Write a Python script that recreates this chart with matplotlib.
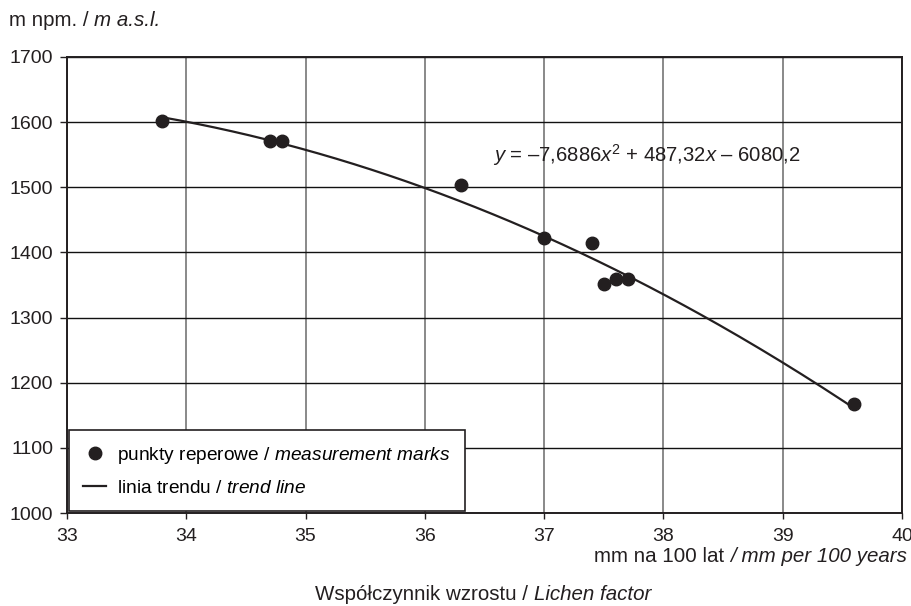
import numpy as np
import matplotlib
matplotlib.use("Agg")
import matplotlib.pyplot as plt
from matplotlib.lines import Line2D

plt.rcParams['font.family'] = ['Liberation Sans', 'DejaVu Sans']
plt.rcParams['mathtext.fontset'] = 'custom'
plt.rcParams['mathtext.it'] = 'Liberation Sans:italic'
plt.rcParams['mathtext.rm'] = 'Liberation Sans'
plt.rcParams['mathtext.sf'] = 'Liberation Sans'

# data
lichen_factor = [33.8, 34.7, 34.8, 36.3, 37.0, 37.4, 37.5, 37.6, 37.7, 39.6]
altitude = [1602, 1571, 1571, 1503, 1422, 1415, 1352, 1359, 1359, 1168]
trend_coef = [-7.6886, 487.32, -6080.2]
x_ticks = [33, 34, 35, 36, 37, 38, 39, 40]
y_ticks = [1000, 1100, 1200, 1300, 1400, 1500, 1600, 1700]

dark = '#231f20'
fs = 14
W, H = 912, 606
fig = plt.figure(figsize=(9.12, 6.06), dpi=100)
ax = fig.add_axes([67/W, 1-513/H, (902-67)/W, (513-57)/H])

xs = np.linspace(min(lichen_factor), max(lichen_factor), 200)
ax.plot(xs, np.polyval(trend_coef, xs), color=dark, lw=1.6, zorder=3)
ax.plot(lichen_factor, altitude, 'o', color=dark, ms=9, zorder=4)

ax.set_xlim(33, 40)
ax.set_ylim(1000, 1700)
ax.set_xticks(x_ticks)
ax.set_yticks(y_ticks)
ax.set_xticklabels([str(v) for v in x_ticks], fontsize=fs)
ax.set_yticklabels([str(v) for v in y_ticks], fontsize=fs)
ax.xaxis.grid(True, color='#808080', lw=1.3)
ax.yaxis.grid(True, color='#111111', lw=1.0)
ax.set_axisbelow(True)
ax.tick_params(axis='x', direction='out', length=4, width=1, pad=7, colors=dark)
ax.tick_params(axis='y', direction='out', length=5, width=1, pad=5, colors=dark)
for s in ax.spines.values():
    s.set_color(dark)
    s.set_linewidth(1.4)

ax.text((493-67)/835, 1-(155-57)/456,
        r'$y$ = –7,6886$x^{2}$ + 487,32$x$ – 6080,2', transform=ax.transAxes,
        fontsize=14.6, color=dark, ha='left', va='center')

renderer = fig.canvas.get_renderer()


def text_width(s, size, style):
    t = fig.text(0, 0, s, fontsize=size, style=style)
    w = t.get_window_extent(renderer).width
    t.remove()
    return w


def mixed(x_px, y_px, parts, size, ha='left'):
    """parts: list of (string, style); draws consecutive texts in pixel coords."""
    sp = text_width('a a', size, 'normal') - text_width('aa', size, 'normal')
    widths = [text_width(s, size, st) for s, st in parts]
    total = sum(widths) + sp * (len(parts) - 1)
    if ha == 'right':
        x0 = x_px - total
    elif ha == 'center':
        x0 = x_px - total / 2
    else:
        x0 = x_px
    for (s, st), w in zip(parts, widths):
        fig.text(x0 / W, 1 - y_px / H, s, fontsize=size, style=st, color=dark,
                 ha='left', va='center')
        x0 += w + sp


mixed(9, 20, [('m npm. /', 'normal'), ('m a.s.l.', 'italic')], 14.8)
mixed(907, 557, [('mm na 100 lat', 'normal'), ('/ mm per 100 years', 'italic')], 14.8, ha='right')
mixed(483, 595, [('Współczynnik wzrostu /', 'normal'), ('Lichen factor', 'italic')], 14.8, ha='center')

handles = [Line2D([], [], marker='o', ls='none', color=dark, ms=9),
           Line2D([], [], color=dark, lw=1.6)]
labels = ['punkty reperowe / $\\it{measurement\\ marks}$', 'linia trendu / $\\it{trend\\ line}$']
leg = ax.legend(handles, labels, loc='lower left', bbox_to_anchor=(2/835, 2/456),
                borderaxespad=0, fontsize=13.8, frameon=True, fancybox=False, edgecolor=dark,
                handlelength=1.2, handletextpad=0.55, borderpad=0.75, labelspacing=0.7,
                framealpha=1)
leg.get_frame().set_linewidth(1.2)

fig.savefig('out.png', dpi=100)
